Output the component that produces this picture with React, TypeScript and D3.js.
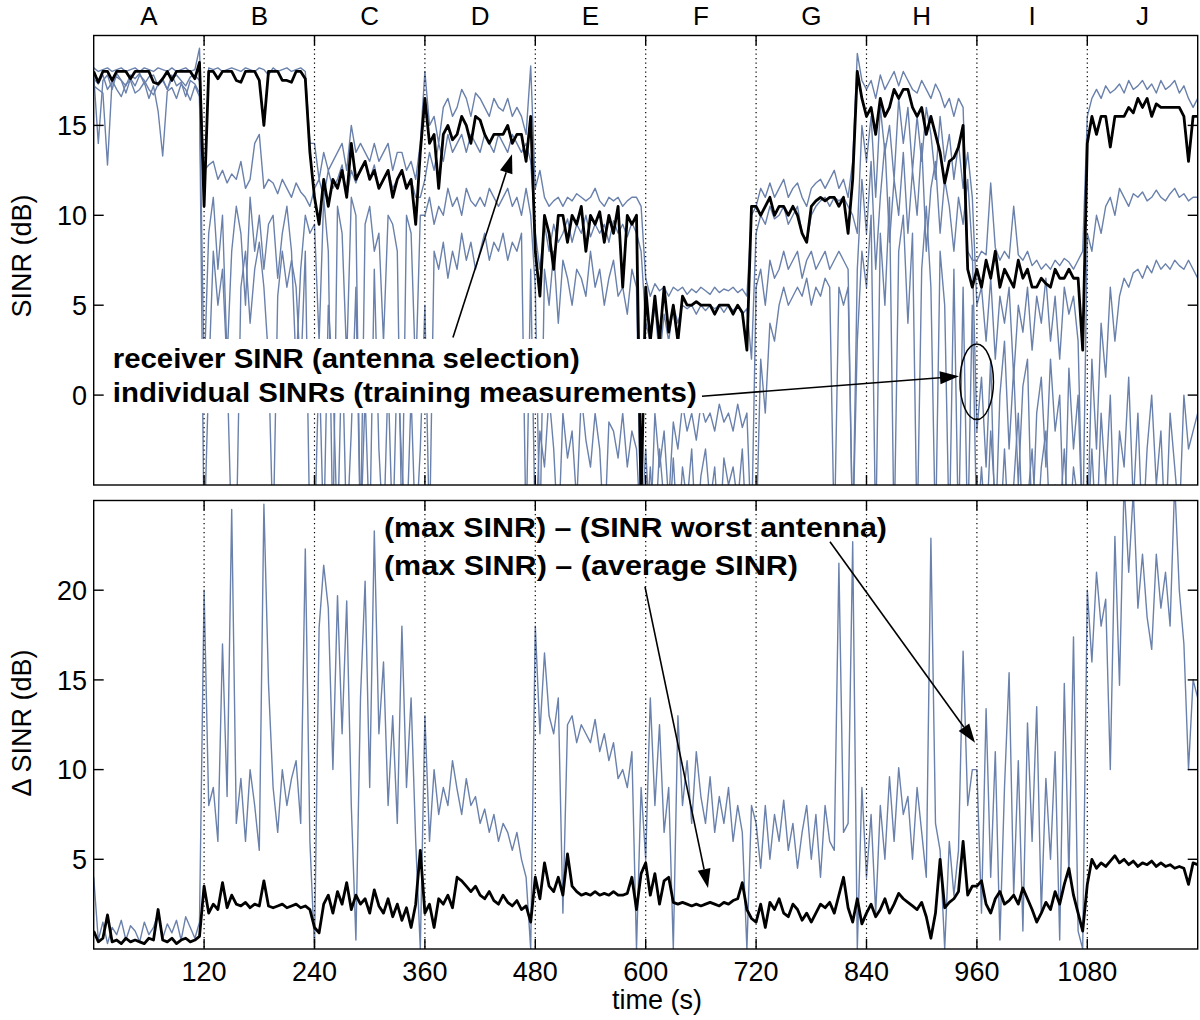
import React from 'react';
import * as d3 from 'd3';

// sampling step of every series (seconds)
const STEP = 5;
const REGIONS = ['A', 'B', 'C', 'D', 'E', 'F', 'G', 'H', 'I', 'J'];
const X_TICKS = [120, 240, 360, 480, 600, 720, 840, 960, 1080];
const TOP_Y_TICKS = [0, 5, 10, 15];
const BOT_Y_TICKS = [5, 10, 15, 20];

// receiver SINR (antenna selection), dB
const RX_SINR = [
  18, 17.4, 18, 18, 17.5, 18, 18, 18, 17.6, 18, 18, 18, 18, 17.4, 17.3, 17.6, 18, 17.5, 18, 18, 18, 18, 17.6, 18.5,
  10.5, 18, 18, 17.6, 18, 18, 18, 17.5, 17.4, 18, 18, 18, 17.5, 15, 18, 18, 18, 17.5, 17.5, 17.4, 18, 18, 17.6, 13.5,
  11, 9.5, 12, 10.5, 12, 11.5, 12.5, 11, 14, 12, 12.5, 13, 12, 12.5, 11.5, 12, 12.5, 11, 12, 12.5, 11.5, 12, 9.5, 13.5,
  16.5, 14, 14.5, 11.5, 14.5, 15, 14.2, 14.5, 15.5, 15, 14, 15.5, 15.3, 14.5, 14, 14.5, 14.5, 14.5, 15, 14, 14.5, 14.5, 13, 15.5,
  8, 5.5, 10, 9, 7, 10, 10, 8.5, 10, 9.5, 10.5, 8, 10, 9.5, 10.2, 8.5, 10, 9, 10.5, 6, 10, 9.5, 10, -6,
  6, 3, 5.5, 3, 6, 3.5, 5, 3, 5.5, 5, 5, 5.2, 5, 5, 5, 4.5, 5, 5, 5, 4.5, 5, 4.6, 2.5, 10.5,
  10.5, 10, 10.5, 11, 10, 10.5, 10.5, 10, 10.5, 10, 9, 8.5, 10.5, 10.8, 11, 10.8, 11, 11, 10.5, 11, 9, 12, 18, 16.5,
  15.5, 16, 14.5, 16.5, 15.5, 16, 17, 16.5, 17, 17, 16, 15.5, 16, 14.5, 15.5, 14.5, 13.5, 11.8, 13, 13.2, 13.8, 15, 7, 6,
  7, 6, 7.5, 6.5, 8, 6, 7, 6.5, 6, 7.5, 6.5, 7, 6, 6, 6.5, 6.2, 6, 7, 6.5, 6.5, 7, 6.5, 6.5, 2.5,
  14, 15.5, 14.5, 15.5, 15.5, 13.8, 15.5, 15.5, 15.5, 16, 15.7, 16.5, 16, 16.5, 15.5, 16.2, 16, 16, 16, 16, 16, 15.5, 13, 15.5,
  15.5,
];

// individual SINRs (training measurements), four antennas, dB
const ANT1_SINR = [
  18.2, 18, 18.1, 18.2, 18, 18.1, 18.2, 18, 18.1, 18.2, 18, 18.2, 18.1, 18, 18.2, 18.1, 18, 18.2, 18, 18.1, 18.2, 18, 18.1, 19.3,
  10.8, 18.2, 18.1, 18.2, 18, 18.1, 18.2, 18.1, 18, 18.2, 18.1, 18, 18.2, 18.1, 17.8, 18.2, 18, 18.1, 18.2, 18, 18.1, 18.2, 18, 14,
  14, 12, 13.5, 12.5, 13, 13.5, 14, 12.5, 15, 13.5, 14, 13.5, 13, 14, 13, 13.5, 14, 12.5, 13.5, 13.5, 12.5, 13, 12, 14,
  18, 15, 15.5, 14, 16, 16.5, 15.5, 16, 17, 16.5, 15.5, 16.8, 16.5, 16, 15.5, 16.5, 16, 15.8, 16.5, 15.5, 16, 15.5, 14.5, 18.3,
  11.5, 12.5, 11, 10.5, 10.8, 11, 10.5, 11, 10.8, 11.2, 11, 10.8, 11, 11.5, 10.8, 10.5, 11, 10.8, 11, 10.5, 10.8, 11, 11, 10.5,
  6.5, 5.5, 6.2, 5.8, 6, 5.5, 6, 5.8, 6, 5.6, 5.9, 5.7, 6, 5.8, 5.6, 6, 5.7, 5.9, 5.8, 6, 5.7, 5.9, 5.5, 10,
  10.5, 11.5, 11, 11.8, 11, 11.5, 12, 11, 11.5, 11.8, 11, 10.5, 11.5, 11.8, 12, 11.5, 12, 12.5, 11.5, 12, 11, 13, 19, 17.5,
  17, 17.5, 16.5, 17.8, 17, 17.5, 18, 17.2, 18, 17.5, 17, 16.8, 17.5, 17, 16.5, 17.3, 16.8, 16, 16.5, 15.5, 16.5, 16, 8, 7.5,
  7.5, 8, 7.8, 11.8, 8.2, 7.5, 8, 7.6, 10.5, 7.8, 7.5, 8, 7.2, 7.5, 7, 7.3, 7, 7.5, 7.2, 7.6, 7.4, 7, 7.5, 8,
  15.5, 16.5, 17, 16.5, 17.2, 16.8, 17, 17.3, 16.8, 17.5, 17, 17.2, 17.5, 17, 17.3, 16.8, 17.5, 17, 17.2, 17.5, 16.8, 17.2, 16.5, 16,
  16.5,
];
const ANT2_SINR = [
  17.8, 14, 17.5, 17.8, 17, 17.9, 17.5, 17.2, 17.8, 17.6, 17.9, 17.3, 17.7, 17.8, 17.2, 17.5, 17, 17.6, 17.8, 17.5, 17.2, 17.7, 17.8, 17.5,
  12.5, 12.8, 13, 12, 12.5, 11.8, 12.3, 12, 13, 11.5, 12, 14, 14.5, 11.5, 12, 11.8, 11.2, 12, 11.5, 11, 11.8, 11.3, 11, 10.5,
  11.5, 12, 11, 12.5, 11.5, 12, 12.8, 11, 12.5, 11.8, 12.6, 13, 12, 12.8, 11.5, 12, 12.5, 11.5, 12, 12.5, 11.5, 12, 11, 11,
  12, 13.5, 12.5, 14, 13, 14.5, 13.5, 14, 14.5, 13.5, 14.5, 14, 13.5, 14.5, 14, 13.5, 14.5, 14, 13.5, 14.5, 14, 13.5, 14, 13,
  9, 7, 9.5, 8, 9.5, 8.5, 9, 9.8, 8.5, 9.5, 9, 10, 8.8, 9.5, 9, 9.5, 8.5, 9.7, 9, 9.5, 8.8, 9.6, 9, 8,
  4, 3, 5, 2, 4.5, 3, 5, 4, 5, 4.8, 5, 4.5, 5, 4.7, 5, 4.8, 5, 4.6, 5, 4.7, 5, 4.5, 4.8, 2,
  9, 10, 9.5, 10.5, 9.8, 10, 10.5, 9.5, 10, 10.5, 9, 8.5, 10, 10.5, 10.8, 11, 10.5, 11, 10.8, 11, 10.5, 10, 9, 15,
  13, 15.5, 11, 16, 13.5, 15, 12, 16.5, 14, 16, 12.5, 15.5, 13, 16, 14.5, 12, 15.5, 13, 14.5, 12, 14, 11.5, 13.5, 11,
  5, 6, 3, 6.5, 2, 5.5, 4, 6, 1, 5, 3.5, 6, 2.5, 5.5, 4, 6.5, 3, 5.5, 2, 6, 4.5, 5.5, 3, -8,
  9, 8, 10, 9, 10.5, 11, 10, 11.5, 11, 10.5, 11.2, 11, 11.3, 10.8, 11, 11.4, 11, 10.8, 11.2, 11.5, 11, 11.2, 10.8, 11,
  11,
];
const ANT3_SINR = [
  17.2, 17, 16.8, 12.8, 17.5, 17, 16.6, 17.3, 17.5, 16.8, 17, 17.4, 16.5, 17.2, 15.8, 13.3, 16.9, 17.1, 16.5, 17.3, 17, 16.4, 17.2, 16.6,
  1, 9, 11, 7, 10, 2, 8, 10.5, 9, 5, 11, 8, 10, 7, 9.5, 10, 6.5, 9, 10.5, 8, 1.5, 7, 10, 9,
  9.5, 3, 11, 8, -8, 10.5, 9, 2, 11, 10, -8, 9.5, 10.5, 8, 9, 3, 10, 9.5, 8, -8, 10, 9, 1, 10,
  10, 11, 9.5, 10.5, 10, 11.5, 10.5, 11, 10, 11.5, 10.8, 10.5, 11, 10.5, 11.5, 11, 10.5, 11, 11.5, 10.5, 11, 10, 11.5, 10,
  6, -8, 7, 5, 8, 4, 7.5, 6.5, 5, 7, 6.5, 5.5, 8, 6, 7, 5, 6.5, 7.5, 5.5, 6, 4.5, 7, 6, -8,
  -3, -8, -1, -4, -2, -6, -1.5, -3, -0.5, -2, -1, -2.5, -0.5, -1.5, -1, -2, -0.5, -1.5, -1, -2, -0.5, -1.8, -1, -8,
  6, 7, 5, 7.5, 6.5, 7, 8, 7, 7.5, 8, 6.5, 7.5, 8, 7, 7.5, 8, 7, 7.5, 8, 7.5, 7, -8, 7, 12,
  9, 13, 7, 11, 14, 8.5, 12, 10, 13.5, 9, 12.5, 10, 14, 8, 11.5, 13, 9, 12, 10.5, 8, 11, 9.5, 12, 8,
  -2, 1, -4, 2, -8, 0, 3, -3, 1.5, -5, 0.5, 2, -8, -1, 1, -4, 2, -2, 0, -8, 1.5, -3, 0, -8,
  -8, 2, -3, 4, 1, 6, 3, 5.5, 6.5, 6, 6.8, 7, 6.5, 7.2, 6.8, 7.5, 7, 7.3, 7, 7.5, 7.2, 7, 7.5, 7,
  6.5,
];
const ANT4_SINR = [
  17.6, 17.3, 17.8, 17, 17.4, 17.7, 17.5, 16.8, 17.6, 17.2, 17.8, 17.5, 17, 16.7, 17.3, 17.6, 17, 17.8, 17.2, 17.4, 16.6, 17.5, 17.3, 16.8,
  -8, 1, 8, 5, 7, 1.5, -8, -8, 6, 8, 4, 7, 8.5, 6, 2, -8, 5.5, 8, 6, 7.5, 6, 1, 8, -8,
  -8, 2, -8, 5, 1, -8, 3, -8, -2, 6, -8, 0, -8, 7, -3, -8, 1, -8, 2, -4, -8, 0, -8, -3,
  5, -8, 8, 7, 8.5, 6.5, 8, 7, 9, 7.5, 8.5, 7, 8, 9, 7.5, 8.5, 8, 9, 7.5, 8.5, 8, 9, -8, 7,
  -8, -2, -4, 0, -3, -8, -1, -3.5, -2, -6, 0, -2.5, -4, -1, -3, -8, -1.5, -2, -3.5, -1, -4, -2, -3, -8,
  -8, -4, -8, -3, -6, -8, -3.5, -8, -4, -6, -3, -8, -4.5, -3, -6, -4, -8, -3.5, -5, -4, -6, -3, -8, -8,
  -8, 2, -1, 4, 3, 5, 6, 5, 5.5, 6, 5.5, 6.5, 5, 6, 5.5, 6.5, 6, -8, 6, 5, 6, -8, 3, 8,
  6, 10, -8, 9, 5, 11, -8, 8, 10, 4, 9, -8, 7, 10.5, 6, -8, 8, 5, -8, 7, -8, 6, -8, 5,
  -8, -4, -8, -2, -6, -8, -3, -8, -5, -1, -8, -6, -3, -8, -4, -2, -8, -5, -7, -3, -8, -4, -6, -8,
  -8, -3, -8, -1, -5, 0, -8, -2, -4, 1, -6, -1, -8, -3, 0, -5, -2, -8, -1, -4, -7, 0, -3, -2,
  -1,
];

// (max SINR) - (SINR worst antenna), dB
const DIFF_WORST = [
  4, 0.5, 1.5, 0.3, 1.2, 0.8, 1.6, 0.5, 1.3, 1, 0.4, 1.5, 0.8, 1.2, 2, 0.6, 1.4, 0.9, 1.6, 0.5, 1.8, 1.2, 0.6, 1.5,
  20, 8, 9, 6, 17, 8.5, 24.5, 7, 9.5, 6, 10, 8, 5.5, 24.8, 14.8, 9, 6.5, 10, 8, 9.5, 10.5, 7, 22.3, 6,
  0, 17.9, 21.4, 19, 10, 19.7, 12, 19.4, 8, 0.5, 14, 20.5, 9, 23.3, 12, 16, 8, 13, 7, 18, 9, 14, 6, 0,
  13, 6, 10, 7.5, 9, 8, 10.5, 8.9, 7.5, 9.5, 8, 8.5, 7, 7.8, 6.5, 7.5, 6, 7, 6.5, 5.5, 6.5, 5, 4, 0,
  18, 12, 16.5, 13, 12, 14, 2, 12.5, 13, 11.5, 12.5, 12, 11.5, 12.8, 11, 12, 10.5, 11.5, 9.5, 10, 9, 11, 0, 9,
  5, 14, 8, 12.5, 6.5, 9, 0, 13, 8, 10.5, 7, 11, 8.5, 7, 9.6, 6.5, 8.5, 7, 9, 6, 8, 6.5, 0, 8,
  7, 4.5, 8, 5, 7.5, 6, 8.3, 5.5, 7, 4.5, 6.5, 8, 5, 7.5, 4, 8, 6, 5.5, 21.5, 6.5, 7, 22.7, 0, 9,
  4, 7.5, 2, 8, 5, 9.6, 6, 10.1, 7.5, 8.5, 5, 9, 6.5, 4, 22.9, 7, 5.5, 0, 6, 3, 5.5, 16.6, 8, 10,
  10, 2, 13.4, 4, 11, 0.5, 9, 15.4, 3, 10.5, 1, 12.6, 6, 13.5, 2, 9.5, 5, 11, 0.5, 14.8, 4, 17.4, 1, 0,
  20, 16, 21, 18, 19.5, 10, 23, 14.7, 26, 21, 25.5, 19, 22, 18.5, 16.7, 22, 19, 21, 18, 26, 20, 17, 10, 15,
  14,
];

// (max SINR) - (average SINR), dB
const DIFF_AVG = [
  1, 0.4, 0.6, 1.9, 0.4, 0.5, 0.3, 0.6, 0.4, 0.5, 0.4, 0.3, 0.6, 0.5, 2.2, 0.5, 0.4, 0.6, 0.3, 0.5, 0.6, 0.4, 0.5, 0.7,
  3.5, 2, 2.5, 2.2, 3.7, 2.3, 3, 2.5, 2.4, 2.6, 2.3, 2.5, 2.4, 3.8, 2.4, 2.3, 2.4, 2.5, 2.3, 2.4, 2.5, 2.3, 2.4, 2.2,
  1.2, 0.9, 2.5, 3, 2, 3.2, 2.5, 3.7, 2.2, 3, 2.5, 2.8, 2, 3.3, 2.4, 2, 2.8, 1.8, 2.5, 1.6, 2.3, 1.2, 2.5, 5.5,
  2, 2.5, 1.2, 2.8, 2.5, 3, 2.3, 4, 3.8, 3.5, 3.2, 3.5, 3, 2.8, 3.2, 2.7, 2.5, 3, 2.6, 2.4, 2.7, 2.2, 2.4, 1.5,
  4, 2.8, 4.8, 3.5, 3.2, 4, 3, 5.3, 3.5, 3.2, 3, 3.1, 3, 3.2, 3, 3.1, 3, 3.2, 3, 3, 3.1, 4, 2.2, 4.2,
  4.8, 3, 4.2, 2.5, 3.8, 4, 2.6, 2.5, 2.6, 2.5, 2.4, 2.5, 2.4, 2.5, 2.6, 2.5, 2.4, 2.6, 2.5, 2.7, 2.8, 3.7, 2.2, 1.7,
  1.5, 2.5, 1.2, 2.6, 2.2, 2.8, 2, 1.8, 2.5, 2.2, 1.6, 2, 1.5, 2, 2.5, 2.3, 2.6, 2, 3, 4, 2.3, 1.5, 2.8, 1.4,
  2, 2.5, 1.8, 2.2, 2.8, 2, 2.5, 3.1, 2.8, 2.6, 2.4, 2.2, 2.6, 1.8, 0.6, 2, 5, 2.3, 2.6, 2.8, 3.2, 6, 3, 3.5,
  3.5, 3.8, 2.5, 2, 2.8, 3.2, 2.5, 2.7, 3, 2.5, 3.4, 2.8, 2.2, 1.5, 2, 2.6, 2.2, 3.2, 2.5, 3.6, 4.5, 3, 2, 1,
  3.6, 5, 4.5, 4.8, 4.6, 4.9, 5.2, 4.8, 5, 4.7, 4.9, 4.6, 4.8, 4.7, 4.9, 4.6, 4.8, 4.6, 4.7, 4.5, 4.6, 4.5, 3.6, 4.8,
  4.7,
];

// annotation texts
const TOP_NOTE = ['receiver SINR (antenna selection)', 'individual SINRs (training measurements)'];
const BOT_NOTE = ['(max SINR) \u2013 (SINR worst antenna)', '(max SINR) \u2013 (average SINR)'];

const BLUE = '#6a81ac';
const FONT = "'Liberation Sans', Arial, Helvetica, sans-serif";

function Arrow({ x1, y1, x2, y2 }: { x1: number; y1: number; x2: number; y2: number }) {
  const L = 19, w = 6.5;
  const dx = x2 - x1, dy = y2 - y1;
  const len = Math.hypot(dx, dy);
  const ux = dx / len, uy = dy / len;
  const bx = x2 - ux * L, by = y2 - uy * L;
  const px = -uy, py = ux;
  return (
    <g>
      <line x1={x1} y1={y1} x2={bx} y2={by} stroke="#000" strokeWidth={1.6} />
      <polygon points={`${x2},${y2} ${bx + px * w},${by + py * w} ${bx - px * w},${by - py * w}`} fill="#000" />
    </g>
  );
}

export default function App() {
  const x = d3.scaleLinear().domain([0, 1200]).range([93.7, 1197.7]);
  const yT = d3.scaleLinear().domain([-5, 20]).range([485, 35.5]);
  const yB = d3.scaleLinear().domain([0, 25]).range([949, 500.5]);
  const lineT = d3.line<number>().x((_, i) => x(i * STEP)).y((d) => yT(d));
  const lineB = d3.line<number>().x((_, i) => x(i * STEP)).y((d) => yB(d));

  const panels = [
    { id: 'top', y: yT, top: yT(20), bottom: yT(-5), ticks: TOP_Y_TICKS },
    { id: 'bot', y: yB, top: yB(25), bottom: yB(0), ticks: BOT_Y_TICKS },
  ];
  const left = x(0), right = x(1200);
  const TL = 10;

  const frame = (p: typeof panels[0]) => (
    <g key={'f' + p.id}>
      {X_TICKS.map((t) => (
        <line key={'dot' + t} x1={x(t)} x2={x(t)} y1={p.top} y2={p.bottom} stroke="#000" strokeWidth={1.2} strokeDasharray="1.2 3.3" />
      ))}
    </g>
  );
  const axes = (p: typeof panels[0]) => (
    <g key={'a' + p.id}>
      <rect x={left} y={p.top} width={right - left} height={p.bottom - p.top} fill="none" stroke="#000" strokeWidth={1.4} />
      {X_TICKS.map((t) => (
        <g key={'xt' + t}>
          <line x1={x(t)} x2={x(t)} y1={p.bottom} y2={p.bottom - TL} stroke="#000" strokeWidth={1.4} />
          <line x1={x(t)} x2={x(t)} y1={p.top} y2={p.top + TL} stroke="#000" strokeWidth={1.4} />
        </g>
      ))}
      {p.ticks.map((v) => (
        <g key={'yt' + v}>
          <line x1={left} x2={left + TL} y1={p.y(v)} y2={p.y(v)} stroke="#000" strokeWidth={1.4} />
          <line x1={right} x2={right - TL} y1={p.y(v)} y2={p.y(v)} stroke="#000" strokeWidth={1.4} />
          <text x={87} y={p.y(v) + 9.6} textAnchor="end" fontSize={27}>{v}</text>
        </g>
      ))}
    </g>
  );

  const boxX0 = x(6.8), boxX1 = x(664.5);
  const boxY0 = yT(3.12), boxY1 = yT(-1.0);

  return (
    <svg width={1200} height={1020} style={{ position: 'absolute', left: 0, top: 0, background: '#fff' }} fontFamily={FONT}>
      <defs>
        <clipPath id="clipTop"><rect x={left} y={yT(20)} width={right - left} height={yT(-5) - yT(20)} /></clipPath>
        <clipPath id="clipBot"><rect x={left} y={yB(25)} width={right - left} height={yB(0) - yB(25)} /></clipPath>
      </defs>
      <rect x={0} y={0} width={1200} height={1020} fill="#fff" />

      {/* top panel data */}
      <g clipPath="url(#clipTop)" fill="none" strokeLinejoin="round">
        {[ANT4_SINR, ANT3_SINR, ANT2_SINR, ANT1_SINR].map((s, k) => (
          <path key={'ant' + k} d={lineT(s) || ''} stroke={BLUE} strokeWidth={1.4} />
        ))}
        <path d={lineT(RX_SINR) || ''} stroke="#000" strokeWidth={2.8} />
      </g>
      {frame(panels[0])}
      <rect x={boxX0} y={boxY0} width={boxX1 - boxX0} height={boxY1 - boxY0} fill="#fff" />
      <g fontWeight="bold" fontSize={27}>
        <text x={x(20.7)} y={yT(1.49)} textLength={467} lengthAdjust="spacingAndGlyphs">{TOP_NOTE[0]}</text>
        <text x={x(20.7)} y={yT(-0.37)} textLength={584} lengthAdjust="spacingAndGlyphs">{TOP_NOTE[1]}</text>
      </g>
      <Arrow x1={x(390.5)} y1={yT(3.2)} x2={x(454.7)} y2={yT(13.4)} />
      <Arrow x1={x(661.2)} y1={yT(-0.06)} x2={x(940.5)} y2={yT(1.05)} />
      <ellipse cx={x(959.8)} cy={yT(0.74)} rx={x(959.8 + 18.2) - x(959.8)} ry={yT(0.74) - yT(0.74 + 2.1)} fill="none" stroke="#000" strokeWidth={1.5} />
      {axes(panels[0])}

      {/* bottom panel data */}
      <g clipPath="url(#clipBot)" fill="none" strokeLinejoin="round">
        <path d={lineB(DIFF_WORST) || ''} stroke={BLUE} strokeWidth={1.4} />
        <path d={lineB(DIFF_AVG) || ''} stroke="#000" strokeWidth={2.8} />
      </g>
      <g fontWeight="bold" fontSize={27}>
        <text x={x(315.5)} y={yB(22.95)} textLength={503} lengthAdjust="spacingAndGlyphs">{BOT_NOTE[0]}</text>
        <text x={x(315.5)} y={yB(20.82)} textLength={414} lengthAdjust="spacingAndGlyphs">{BOT_NOTE[1]}</text>
      </g>
      {frame(panels[1])}
      <Arrow x1={x(800.3)} y1={yB(22.7)} x2={x(958)} y2={yB(11.5)} />
      <Arrow x1={x(599.2)} y1={yB(20.2)} x2={x(667.7)} y2={yB(3.4)} />
      {axes(panels[1])}

      {/* x tick labels */}
      {X_TICKS.map((t) => (
        <text key={'xl' + t} x={x(t)} y={981} textAnchor="middle" fontSize={27}>{t}</text>
      ))}
      {/* region letters */}
      {REGIONS.map((r, i) => (
        <text key={'r' + r} x={x(60 + 120 * i)} y={25} textAnchor="middle" fontSize={26}>{r}</text>
      ))}
      <text transform="translate(31,256) rotate(-90)" textAnchor="middle" fontSize={27}>SINR (dB)</text>
      <text transform="translate(31,723) rotate(-90)" textAnchor="middle" fontSize={27}>{'\u0394 SINR (dB)'}</text>
      <text x={657} y={1009} textAnchor="middle" fontSize={27}>time (s)</text>
    </svg>
  );
}
